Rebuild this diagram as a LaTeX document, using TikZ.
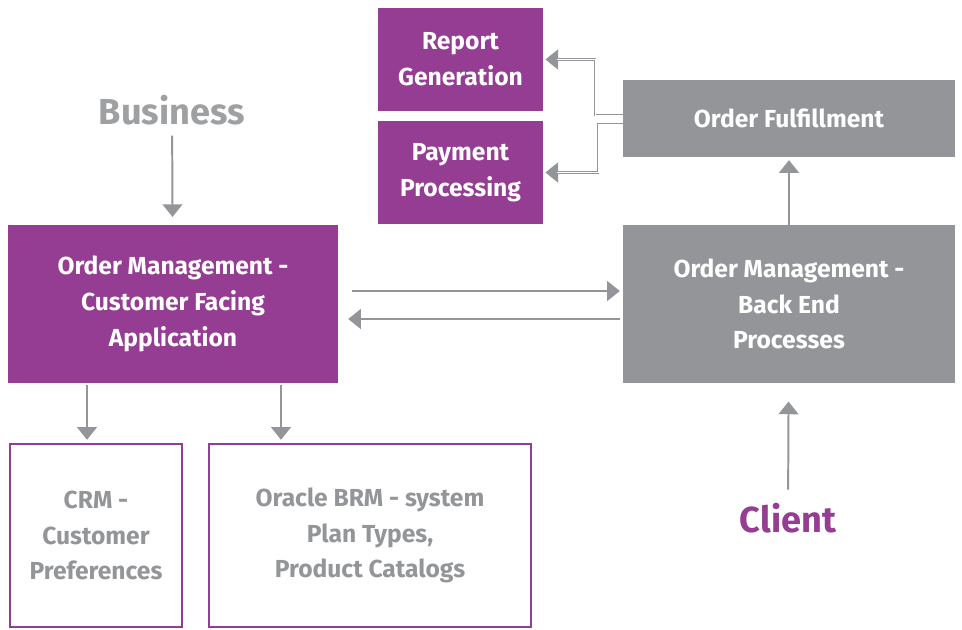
\documentclass[tikz,border=0pt]{standalone}
\usepackage{fontspec}
\setmainfont{Fira Sans}
\usetikzlibrary{arrows.meta}
\definecolor{omPurple}{HTML}{943D93}
\definecolor{omGray}{HTML}{939598}
\begin{document}
\begin{tikzpicture}[x=0.025cm,y=-0.025cm,
  pbox/.style={fill=omPurple, text=white, align=center, font=\bfseries\fontsize{17.5}{25.5}\selectfont},
  gbox/.style={fill=omGray, text=white, align=center, font=\bfseries\fontsize{17.5}{25.5}\selectfont},
  obox/.style={draw=omPurple, line width=1.9pt, fill=white, text=omGray, align=center, font=\bfseries\fontsize{17.5}{25.5}\selectfont},
  big/.style={font=\bfseries\fontsize{25.7}{30}\selectfont},
  flow/.style={draw=omGray, line width=1.4pt, -{Triangle[width=14pt,length=9pt]}},
  split/.style={draw=omGray, line width=1.8pt, -{Triangle[width=14pt,length=9pt]},
    postaction={draw=white, line width=0.6pt, -, shorten >=10pt}}]
\useasboundingbox (0,0) rectangle (962,630);
%%% Boxes on the top
\node[pbox, minimum width=4.125cm, minimum height=2.575cm] (report) at (460.5, 59.5) {Report\\Generation};
\node[pbox, minimum width=4.125cm, minimum height=2.575cm] (pay) at (460.5, 172.5) {Payment\\Processing};
\node[gbox, minimum width=8.3cm, minimum height=1.925cm] (ful) at (789, 118.5) {Order Fulfillment};
%%% Order management
\node[pbox, minimum width=8.25cm, minimum height=3.95cm] (omcust) at (173, 304) {Order Management -\\Customer Facing\\Application};
\node[gbox, minimum width=8.3cm, minimum height=3.95cm] (omback) at (789, 304) {Order Management -\\Back End\\Processes};
%%% Outlined boxes
\node[obox, minimum width=4.3cm, minimum height=4.575cm] (crm) at (96, 535.5) {CRM -\\Customer\\Preferences};
\node[obox, minimum width=8.05cm, minimum height=4.575cm] (brm) at (370, 535.5) {Oracle BRM - system\\Plan Types,\\Product Catalogs};
%%% Labels
\node[big, text=omGray!90] (business) at (172, 110) {Business};
\node[big, text=omPurple] (client) at (788, 518) {Client};
%Business and client
\draw[flow, shorten <=4pt, shorten >=5.5pt] (business) -- (omcust);
\draw[flow, shorten <=6pt, shorten >=13pt] (client) -- (omback);
%Customer facing down to the outlined boxes
\draw[flow, shorten <=1.5pt, shorten >=2pt] (omcust.south -| 87,0) -- (crm.north -| 87,0);
\draw[flow, shorten <=1.5pt, shorten >=2pt] (omcust.south -| 281,0) -- (brm.north -| 281,0);
%Between the two order management boxes
\draw[flow, shorten <=10pt, shorten >=2pt] (omcust.east |- 0,291) -- (omback.west |- 0,291);
\draw[flow, shorten <=2pt, shorten >=7pt] (omback.west |- 0,319) -- (omcust.east |- 0,319);
%Back end up to fulfillment
\draw[flow, shorten >=2pt] (omback) -- (ful);
%Fulfillment to report and payment
\draw[split, shorten >=1.5pt] (ful.west |- 0,115) -- (595,115) |- (report.east);
\draw[split, shorten >=1.5pt] (ful.west |- 0,124) -- (598,124) |- (pay.east);
\end{tikzpicture}
\end{document}
